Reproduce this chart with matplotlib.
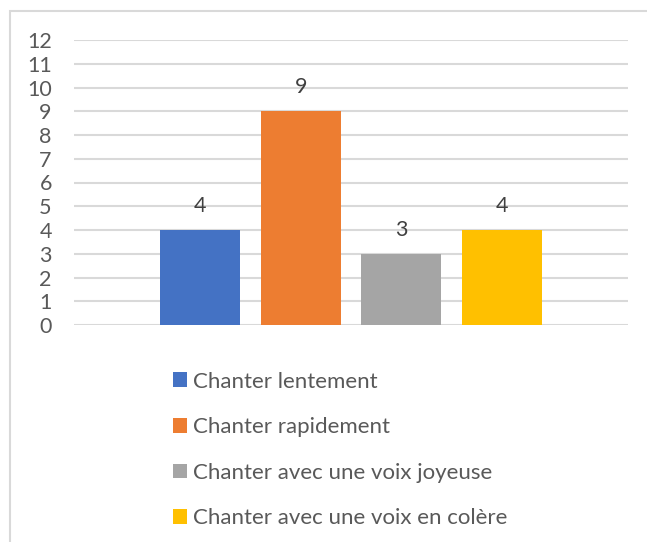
import matplotlib
matplotlib.use("Agg")
import matplotlib.pyplot as plt
from matplotlib.patches import Rectangle

labels = ["Chanter lentement", "Chanter rapidement",
          "Chanter avec une voix joyeuse", "Chanter avec une voix en colère"]
values = [4, 9, 3, 4]
colors = ["#4472C4", "#ED7D31", "#A5A5A5", "#FFC000"]
yticks = list(range(0, 13))

plt.rcParams['font.family'] = ['Lato', 'DejaVu Sans']

W, H = 647, 542
fig = plt.figure(figsize=(W / 100, H / 100), dpi=100)

# outer chart border (only top and left visible in reference)
fig.patches.append(Rectangle((9.5 / W, -0.1), 1.2, 1.1 - 10.5 / H,
                             transform=fig.transFigure, fill=False,
                             edgecolor="#d9d9d9", linewidth=1.5))

ax = fig.add_axes([74 / W, (H - 325) / H, (628 - 74) / W, (325 - 40) / H])

bar_w = 0.1444
step = 0.1818
n = len(values)
xs = [(i - (n - 1) / 2) * step for i in range(n)]
bars = []
for x, v, c, lab in zip(xs, values, colors, labels):
    b = ax.bar(x, v, width=bar_w, color=c, label=lab, zorder=3)
    bars.append(b)
    ax.annotate(str(v), (x, v), xytext=(0, 13), textcoords="offset points",
                ha="center", va="baseline", fontsize=15.5, color="#404040")

ax.set_xlim(-0.5, 0.5)
ax.set_ylim(0, 12)
ax.set_yticks(yticks)
ax.set_xticks([])
ax.tick_params(axis="y", length=0, pad=16, labelsize=15.5, labelcolor="#595959")
ax.yaxis.grid(True, color="#d9d9d9", linewidth=1.5, zorder=0)
for s in ax.spines.values():
    s.set_visible(False)

leg = fig.legend(handles=[b for b in bars], labels=labels,
                 loc="upper left", bbox_to_anchor=(173 / W, (H - 371.5) / H),
                 frameon=False, fontsize=16, handlelength=0.63,
                 handleheight=0.63, handletextpad=0.27, labelspacing=1.15,
                 borderpad=0, borderaxespad=0)
for t in leg.get_texts():
    t.set_color("#595959")

fig.savefig("out.png", dpi=100)
